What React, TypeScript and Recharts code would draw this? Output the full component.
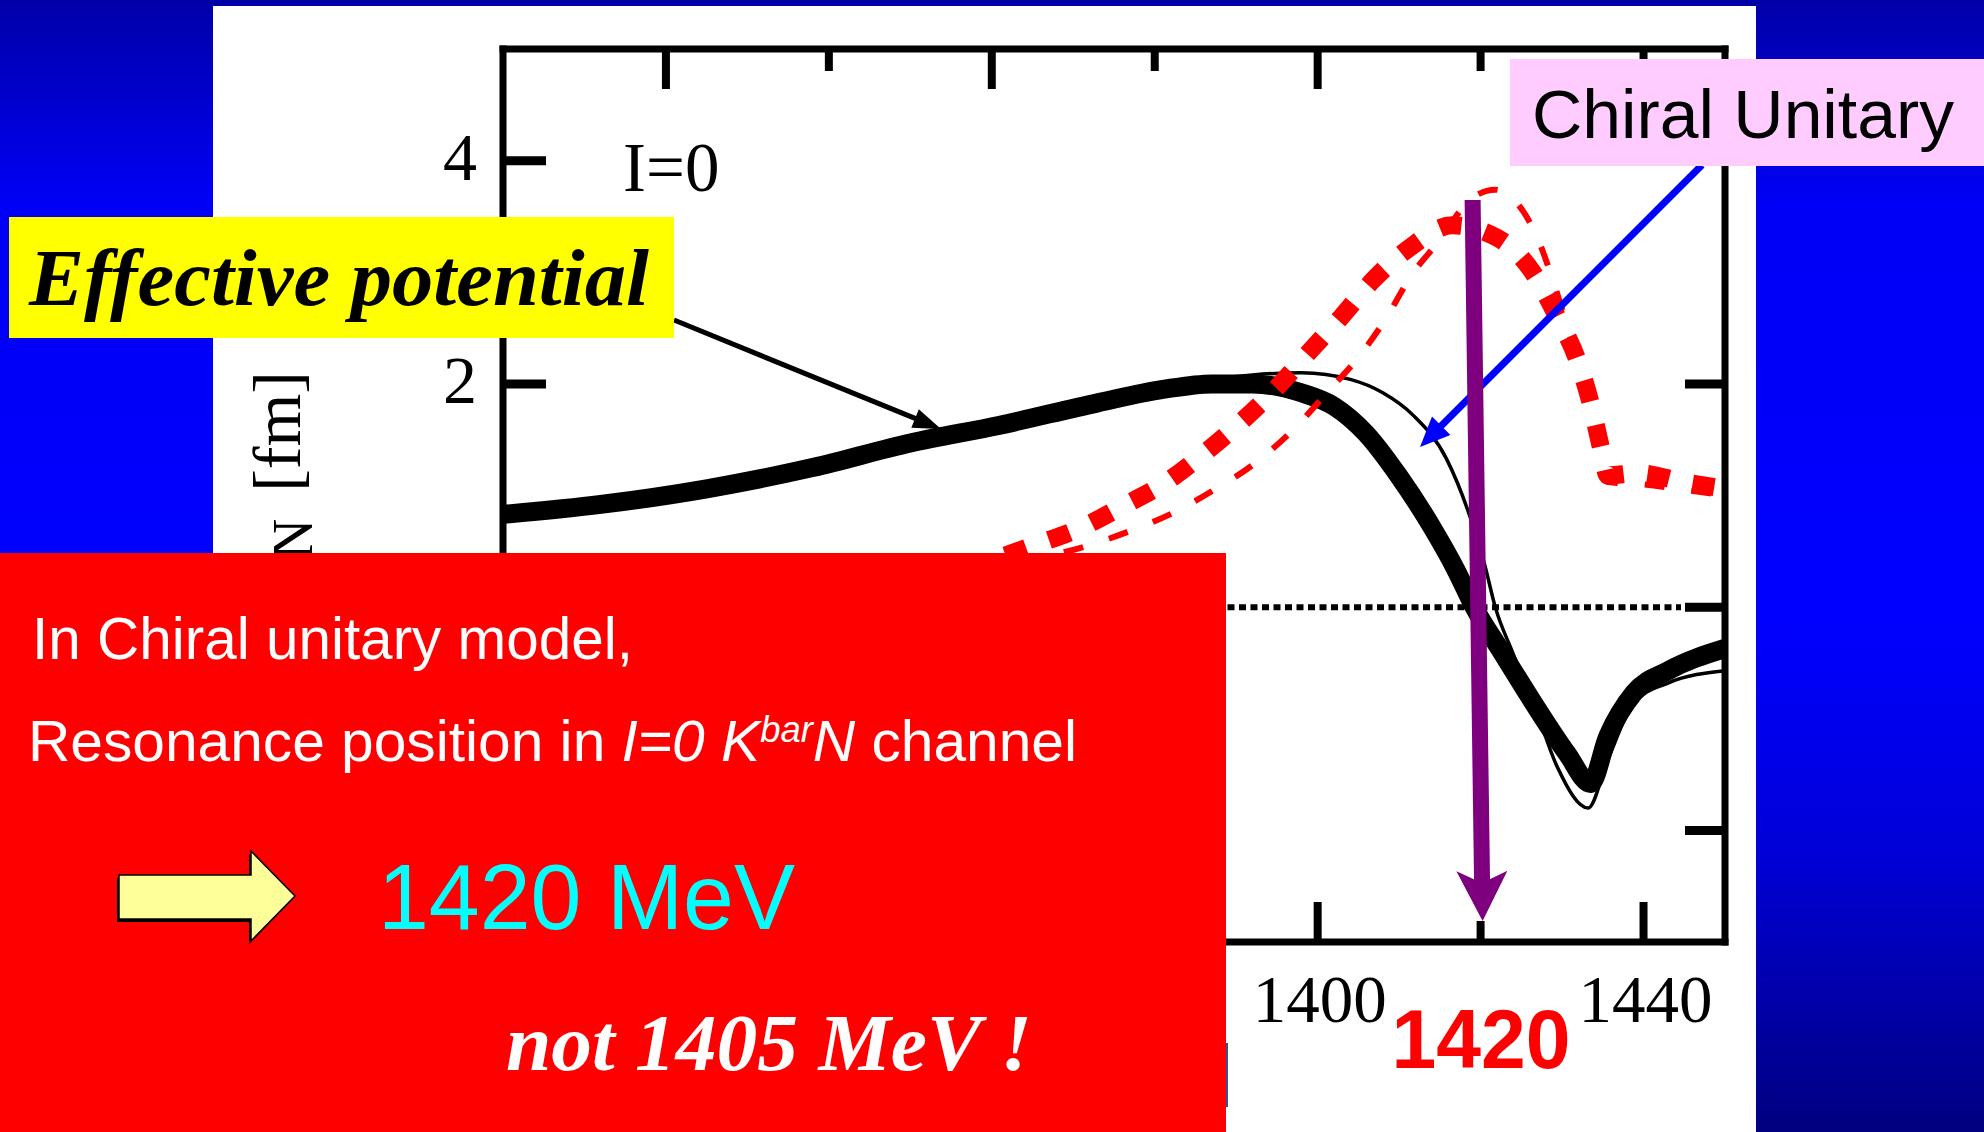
import React from 'react'
import { LineChart, Line, XAxis, YAxis } from 'recharts'

const W = 1984
const H = 1132
// plot frame in page pixels
const PLOT = { left: 503, right: 1725, top: 49, bottom: 942 }

const X_DOMAIN: [number, number] = [1300, 1450]
const Y_DOMAIN: [number, number] = [-3, 5]
const X_TICKS = [1320, 1340, 1360, 1380, 1400, 1420, 1440]
const X_LABELED = [1320, 1360, 1400, 1440]
const Y_TICKS = [-2, 0, 2, 4]
const RESONANCE = 1420

// Re f (effective potential) — thick solid
const effReal = [
  { e: 1300, v: 0.83 }, { e: 1312, v: 0.92 }, { e: 1325, v: 1.06 }, { e: 1338, v: 1.25 },
  { e: 1350, v: 1.47 }, { e: 1361, v: 1.63 }, { e: 1373, v: 1.83 }, { e: 1381, v: 1.95 },
  { e: 1387, v: 2.0 }, { e: 1392, v: 2.0 }, { e: 1398, v: 1.92 }, { e: 1402, v: 1.8 },
  { e: 1406, v: 1.55 }, { e: 1410, v: 1.17 }, { e: 1414, v: 0.72 }, { e: 1417, v: 0.33 },
  { e: 1419.2, v: 0.0 }, { e: 1422.4, v: -0.38 }, { e: 1426.5, v: -0.86 }, { e: 1430.6, v: -1.31 },
  { e: 1433.5, v: -1.58 }, { e: 1435.6, v: -1.16 }, { e: 1438.8, v: -0.77 }, { e: 1443, v: -0.57 },
  { e: 1450, v: -0.37 },
]

// Re f (chiral unitary) — thin solid
const chiralReal = [
  { e: 1300, v: 0.83 }, { e: 1312, v: 0.92 }, { e: 1325, v: 1.06 }, { e: 1338, v: 1.25 },
  { e: 1350, v: 1.47 }, { e: 1361, v: 1.63 }, { e: 1373, v: 1.83 }, { e: 1381, v: 1.96 },
  { e: 1387, v: 2.04 }, { e: 1392, v: 2.08 }, { e: 1398, v: 2.1 }, { e: 1404, v: 2.04 },
  { e: 1408, v: 1.92 }, { e: 1411.7, v: 1.72 }, { e: 1415.8, v: 1.33 }, { e: 1418.7, v: 0.81 },
  { e: 1420.5, v: 0.38 }, { e: 1421.8, v: 0.0 }, { e: 1423.9, v: -0.4 }, { e: 1426.5, v: -0.86 },
  { e: 1429.4, v: -1.43 }, { e: 1433.2, v: -1.8 }, { e: 1435.6, v: -1.37 }, { e: 1438.8, v: -0.86 },
  { e: 1443, v: -0.68 }, { e: 1450, v: -0.57 },
]

// Im f (effective potential) — thick dashed
const effImag = [
  { e: 1300, v: 0.06 }, { e: 1320, v: 0.12 }, { e: 1340, v: 0.22 }, { e: 1355, v: 0.32 },
  { e: 1365.4, v: 0.56 }, { e: 1370.9, v: 0.71 }, { e: 1376.2, v: 0.91 }, { e: 1381.4, v: 1.12 },
  { e: 1386.1, v: 1.38 }, { e: 1390.6, v: 1.66 }, { e: 1394.9, v: 1.96 }, { e: 1399, v: 2.29 },
  { e: 1402.9, v: 2.6 }, { e: 1406.8, v: 2.93 }, { e: 1411.3, v: 3.22 }, { e: 1416.5, v: 3.42 },
  { e: 1422, v: 3.31 }, { e: 1426.3, v: 3.01 }, { e: 1429.4, v: 2.6 }, { e: 1431.8, v: 2.23 },
  { e: 1433.5, v: 1.83 }, { e: 1434.8, v: 1.42 }, { e: 1435.6, v: 1.18 }, { e: 1439.2, v: 1.2 },
  { e: 1445, v: 1.12 }, { e: 1450, v: 1.06 },
]

// Im f (chiral unitary) — thin dashed
const chiralImag = [
  { e: 1300, v: 0.04 }, { e: 1320, v: 0.09 }, { e: 1340, v: 0.18 }, { e: 1355, v: 0.32 },
  { e: 1365, v: 0.43 }, { e: 1371.3, v: 0.54 }, { e: 1376.9, v: 0.68 }, { e: 1382.4, v: 0.85 },
  { e: 1387.5, v: 1.06 }, { e: 1392.5, v: 1.3 }, { e: 1397, v: 1.59 }, { e: 1401.5, v: 1.95 },
  { e: 1404.8, v: 2.22 }, { e: 1408.5, v: 2.6 }, { e: 1411.3, v: 2.95 }, { e: 1415, v: 3.29 },
  { e: 1418.7, v: 3.65 }, { e: 1421.8, v: 3.74 }, { e: 1423.6, v: 3.68 }, { e: 1426.9, v: 3.32 },
  { e: 1429, v: 2.9 }, { e: 1431.5, v: 2.3 }, { e: 1433.5, v: 1.83 }, { e: 1434.8, v: 1.4 },
  { e: 1435.6, v: 1.12 }, { e: 1440, v: 1.1 }, { e: 1445, v: 1.05 }, { e: 1450, v: 1.0 },
]

const zeroLine = [{ e: 1300, v: 0 }, { e: 1444.6, v: 0 }]

const SERIF = '"Liberation Serif", "Times New Roman", serif'
const SANS = '"Liberation Sans", Arial, sans-serif'

const xPx = (e: number) =>
  PLOT.left + ((e - X_DOMAIN[0]) / (X_DOMAIN[1] - X_DOMAIN[0])) * (PLOT.right - PLOT.left)

const isMajor = (v: number) => X_LABELED.includes(v)

const BottomTick = ({ x, y, payload }: any) => (
  <g>
    <line x1={x} x2={x} y1={y} y2={y - (isMajor(payload.value) ? 40 : 21)} stroke="#000" strokeWidth={8} />
    {isMajor(payload.value) && (
      <text x={x + 2} y={y + 80} textAnchor="middle" fontFamily={SERIF} fontSize={67} fill="#000">
        {payload.value}
      </text>
    )}
  </g>
)

const TopTick = ({ x, y, payload }: any) => (
  <line x1={x} x2={x} y1={y} y2={y + (isMajor(payload.value) ? 40 : 22)} stroke="#000" strokeWidth={8} />
)

const LeftTick = ({ x, y, payload }: any) => (
  <g>
    <line x1={x} x2={x + 43} y1={y} y2={y} stroke="#000" strokeWidth={9} />
    <text x={x - 26} y={y + 19} textAnchor="end" fontFamily={SERIF} fontSize={68} fill="#000">
      {payload.value}
    </text>
  </g>
)

const RightTick = ({ x, y }: any) => (
  <line x1={x} x2={x - 40} y1={y} y2={y} stroke="#000" strokeWidth={9} />
)

const frameLine = { stroke: '#000', strokeWidth: 7, strokeLinecap: 'square' as const }

// straight arrow with a triangular head; notch pulls the back of the head in
function Arrow({ from, to, width, headLen, headW, color, notch = 0 }: {
  from: [number, number]; to: [number, number]; width: number; headLen: number; headW: number; color: string; notch?: number
}) {
  const [x1, y1] = from
  const [x2, y2] = to
  const L = Math.hypot(x2 - x1, y2 - y1)
  const ux = (x2 - x1) / L
  const uy = (y2 - y1) / L
  const px = -uy
  const py = ux
  const bx = x2 - ux * headLen
  const by = y2 - uy * headLen
  const nx = bx + ux * notch
  const ny = by + uy * notch
  const head = [
    [x2, y2],
    [bx + (px * headW) / 2, by + (py * headW) / 2],
    [nx, ny],
    [bx - (px * headW) / 2, by - (py * headW) / 2],
  ]
  return (
    <g>
      <line x1={x1} y1={y1} x2={nx + ux * 2} y2={ny + uy * 2} stroke={color} strokeWidth={width} />
      <polygon points={head.map((p) => p.join(',')).join(' ')} fill={color} />
    </g>
  )
}

export default function App() {
  const arrowX = xPx(RESONANCE)
  return (
    <div style={{ position: 'absolute', left: 0, top: 0, width: W, height: H, overflow: 'hidden' }}>
      {/* slide background and figure paper */}
      <svg width={W} height={H} style={{ position: 'absolute', left: 0, top: 0 }}>
        <defs>
          <linearGradient id="slideBg" x1="0" y1="0" x2="0" y2="1">
            <stop offset="0" stopColor="#0000a8" />
            <stop offset="0.18" stopColor="#0000f6" />
            <stop offset="0.55" stopColor="#0000ff" />
            <stop offset="0.75" stopColor="#0000d8" />
            <stop offset="1" stopColor="#000080" />
          </linearGradient>
        </defs>
        <rect width={W} height={H} fill="url(#slideBg)" />
        <rect x={213} y={6} width={1543} height={H - 6} fill="#fff" />
      </svg>

      <div style={{ position: 'absolute', left: 0, top: 0 }}>
        <LineChart
          width={W}
          height={H}
          margin={{ left: PLOT.left - 60, right: W - PLOT.right - 40, top: PLOT.top - 20, bottom: H - PLOT.bottom - 40 }}
        >
          <XAxis
            dataKey="e"
            type="number"
            domain={X_DOMAIN}
            ticks={X_TICKS}
            interval={0}
            height={40}
            tickSize={0}
            tickMargin={0}
            tickLine={false}
            axisLine={frameLine}
            tick={BottomTick}
            allowDataOverflow
          />
          <XAxis
            xAxisId="top"
            orientation="top"
            dataKey="e"
            type="number"
            domain={X_DOMAIN}
            ticks={X_TICKS}
            interval={0}
            height={20}
            tickSize={0}
            tickMargin={0}
            tickLine={false}
            axisLine={frameLine}
            tick={TopTick}
            allowDataOverflow
          />
          <YAxis
            type="number"
            domain={Y_DOMAIN}
            ticks={Y_TICKS}
            interval={0}
            width={60}
            tickSize={0}
            tickMargin={0}
            tickLine={false}
            axisLine={frameLine}
            tick={LeftTick}
            allowDataOverflow
          />
          <YAxis
            yAxisId="right"
            orientation="right"
            type="number"
            domain={Y_DOMAIN}
            ticks={Y_TICKS}
            interval={0}
            width={40}
            tickSize={0}
            tickMargin={0}
            tickLine={false}
            axisLine={frameLine}
            tick={RightTick}
            allowDataOverflow
          />
          <Line data={zeroLine} dataKey="v" type="linear" stroke="#000" strokeWidth={6} strokeDasharray="7 4.5" dot={false} isAnimationActive={false} />
          <Line data={chiralReal} dataKey="v" type="monotone" stroke="#000" strokeWidth={3.5} dot={false} isAnimationActive={false} />
          <Line data={effReal} dataKey="v" type="monotone" stroke="#000" strokeWidth={19} dot={false} isAnimationActive={false} />
          <Line data={chiralImag} dataKey="v" type="monotone" stroke="#ff0000" strokeWidth={6} strokeDasharray="20 27" dot={false} isAnimationActive={false} />
          <Line data={effImag} dataKey="v" type="monotone" stroke="#ff0000" strokeWidth={18} strokeDasharray="22 24" dot={false} isAnimationActive={false} />
        </LineChart>
      </div>

      {/* annotations */}
      <svg width={W} height={H} style={{ position: 'absolute', left: 0, top: 0 }}>
        <text transform="rotate(-90)" x={-371} y={300} textAnchor="end" fontFamily={SERIF} fontSize={68} fill="#000">
          Re f
          <tspan fontSize={56} dy={12}>K̄N</tspan>
          <tspan dy={-12} dx={10}> [fm]</tspan>
        </text>
        <text x={623} y={191} fontFamily={SERIF} fontSize={69} fill="#000">I=0</text>

        <Arrow from={[674, 320]} to={[941, 429]} width={5} headLen={28} headW={20} color="#000" />
        <rect x={9} y={217} width={665} height={121} fill="#ffff00" />
        <text x={29} y={305} fontFamily={SERIF} fontWeight="bold" fontStyle="italic" fontSize={80} fill="#000" textLength={620} lengthAdjust="spacingAndGlyphs">
          Effective potential
        </text>

        <Arrow from={[1702, 165]} to={[1420, 447]} width={7} headLen={30} headW={26} color="#0000ff" />
        <rect x={1510} y={59} width={W - 1510} height={107} fill="#ffccff" />
        <text x={1532} y={138} fontFamily={SANS} fontSize={69} fill="#000" textLength={422} lengthAdjust="spacingAndGlyphs">
          Chiral Unitary
        </text>

        <Arrow from={[arrowX - 8, 200]} to={[arrowX + 2, 921]} width={16} headLen={50} headW={51} notch={12} color="#7f007f" />

        <rect x={0} y={553} width={1226} height={H - 553} fill="#ff0000" />
        <line x1={1227} x2={1227} y1={1043} y2={1107} stroke="#3050a0" strokeWidth={2} />
        <text x={32} y={659} fontFamily={SANS} fontSize={59} fill="#fff" textLength={601} lengthAdjust="spacingAndGlyphs">
          In Chiral unitary model,
        </text>
        <text x={28} y={761} fontFamily={SANS} fontSize={58} fill="#fff" textLength={1049} lengthAdjust="spacingAndGlyphs">
          Resonance position in <tspan fontStyle="italic">I=0 K</tspan>
          <tspan fontStyle="italic" fontSize={36} dy={-19}>bar</tspan>
          <tspan fontStyle="italic" dy={19}>N</tspan> channel
        </text>
        <polygon points="117,878 249,878 249,854 293,899 249,944 249,922 117,922" fill="#000" />
        <polygon points="119,875 251,875 251,851 295,896 251,941 251,919 119,919" fill="#ffff99" stroke="#000" strokeWidth={1.5} />
        <text x={378} y={929} fontFamily={SANS} fontSize={92} fill="#00ffff" textLength={417} lengthAdjust="spacingAndGlyphs">
          {`${RESONANCE} MeV`}
        </text>
        <text x={506} y={1070} fontFamily={SERIF} fontWeight="bold" fontStyle="italic" fontSize={80} fill="#fff" textLength={526} lengthAdjust="spacingAndGlyphs">
          not 1405 MeV !
        </text>

        <text x={arrowX - 89} y={1068} fontFamily={SANS} fontWeight="bold" fontSize={84} fill="#ff0000" textLength={179} lengthAdjust="spacingAndGlyphs">
          {RESONANCE}
        </text>
      </svg>
    </div>
  )
}
